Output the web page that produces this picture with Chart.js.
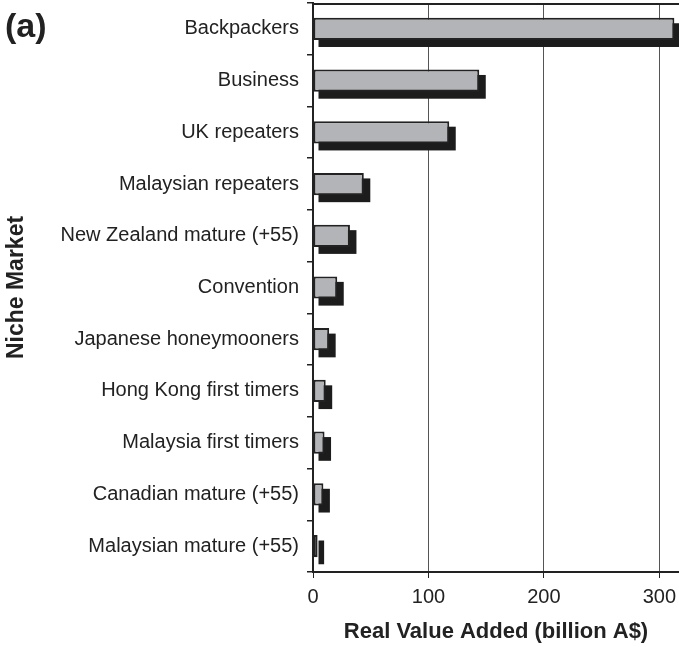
<!DOCTYPE html>
<html>
<head>
<meta charset="utf-8">
<title>Niche Market - Real Value Added</title>
<script src="https://cdn.jsdelivr.net/npm/chart.js@4"></script>
<style>
    body {
        margin: 0;
        background: #ffffff;
    }
    #wrap {
        position: relative;
        width: 679px;
        height: 647px;
    }
    #panelLabel {
        position: absolute;
        left: 5px;
        top: 8px;
        font: bold 34px 'Liberation Sans', Arial, Helvetica, sans-serif;
        line-height: 34px;
        color: #222222;
    }
</style>
</head>
<body>
<div id="wrap">
    <canvas id="nicheChart" width="679" height="647"></canvas>
    <div id="panelLabel">(a)</div>
</div>
<script>
// Niche markets, largest first
const markets = [
    'Backpackers',
    'Business',
    'UK repeaters',
    'Malaysian repeaters',
    'New Zealand mature (+55)',
    'Convention',
    'Japanese honeymooners',
    'Hong Kong first timers',
    'Malaysia first timers',
    'Canadian mature (+55)',
    'Malaysian mature (+55)'
];

// Real value added, billion A$
const valueAdded = [313, 144, 118, 44, 32, 21, 14, 11, 10, 9, 4];

// Value axis
const xTicks = [0, 100, 200, 300];
const xMax = 317;

const FONT = "'Liberation Sans', Arial, Helvetica, sans-serif";
const INK = '#222222';

// Solid black drop shadow behind every bar
const barShadow = {
    id: 'barShadow',
    beforeDatasetsDraw(chart) {
        const ctx = chart.ctx;
        const meta = chart.getDatasetMeta(0);
        ctx.save();
        ctx.fillStyle = '#1c1c1c';
        meta.data.forEach(bar => {
            const p = bar.getProps(['x', 'y', 'base', 'height'], true);
            const top = p.y - p.height / 2;
            ctx.fillRect(p.base + 5, top + 5.5, (p.x - p.base) + 1.5, p.height + 1.5);
        });
        ctx.restore();
    }
};

// Frame line along the top of the plot
const topFrame = {
    id: 'topFrame',
    afterDatasetsDraw(chart) {
        const ctx = chart.ctx;
        const area = chart.chartArea;
        ctx.save();
        ctx.strokeStyle = INK;
        ctx.lineWidth = 2;
        ctx.beginPath();
        ctx.moveTo(area.left, area.top + 1);
        ctx.lineTo(area.right, area.top + 1);
        ctx.stroke();
        ctx.restore();
    }
};

// Fixed axis boxes, no extra room for overhanging labels
function fixBox(size) {
    return scale => {
        if (scale.isHorizontal()) {
            scale.height = size;
        } else {
            scale.width = size;
        }
        scale.paddingTop = 0;
        scale.paddingBottom = 0;
        scale.paddingLeft = 0;
        scale.paddingRight = 0;
    };
}

function initChart() {
    const ctx = document.getElementById('nicheChart').getContext('2d');
    new Chart(ctx, {
        type: 'bar',
        data: {
            labels: markets,
            datasets: [{
                label: 'Real Value Added',
                data: valueAdded,
                backgroundColor: '#b3b4b8',
                borderColor: INK,
                borderWidth: 2,
                borderSkipped: false,
                barPercentage: 0.43,
                categoryPercentage: 1
            }]
        },
        options: {
            indexAxis: 'y',
            responsive: false,
            animation: false,
            layout: {
                padding: { top: 3, right: 0, bottom: 0, left: 0 }
            },
            plugins: {
                legend: { display: false },
                tooltip: { enabled: false }
            },
            scales: {
                x: {
                    type: 'linear',
                    min: 0,
                    max: xMax,
                    afterBuildTicks: scale => {
                        scale.ticks = xTicks.map(v => ({ value: v }));
                    },
                    afterFit: fixBox(75),
                    grid: {
                        color: '#555555',
                        lineWidth: 1,
                        tickColor: INK,
                        tickLength: 6
                    },
                    border: {
                        color: INK,
                        width: 2
                    },
                    ticks: {
                        color: INK,
                        padding: 7,
                        font: { family: FONT, size: 20 }
                    },
                    title: {
                        display: true,
                        text: 'Real Value Added (billion A$)',
                        color: INK,
                        padding: { top: 0, bottom: 2 },
                        font: { family: FONT, size: 22, weight: 'bold' }
                    }
                },
                y: {
                    afterFit: fixBox(313),
                    grid: {
                        drawOnChartArea: false,
                        offset: true,
                        color: INK,
                        lineWidth: 1.5,
                        tickLength: 6
                    },
                    border: {
                        color: INK,
                        width: 2
                    },
                    ticks: {
                        color: INK,
                        padding: 8,
                        autoSkip: false,
                        font: { family: FONT, size: 20 }
                    },
                    title: {
                        display: true,
                        text: 'Niche Market',
                        color: INK,
                        padding: { top: 3, bottom: 0 },
                        font: { family: FONT, size: 23, weight: 'bold' }
                    }
                }
            }
        },
        plugins: [barShadow, topFrame]
    });
}

initChart();
</script>
</body>
</html>
